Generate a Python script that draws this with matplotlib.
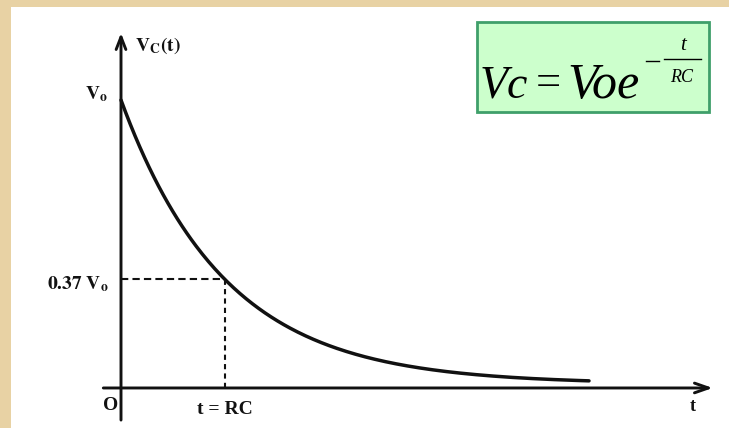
import numpy as np
import matplotlib.pyplot as plt
from matplotlib.patches import Rectangle

plt.rcParams["mathtext.fontset"] = "stix"
plt.rcParams["font.family"] = ["Liberation Serif", "DejaVu Serif"]

# time in units of RC, voltage in units of Vo
t_end = 4.5
t_rc = 1.0
v_rc = 0.37
v_top = 1.0

W, H = 729, 428
fig = plt.figure(figsize=(W / 100, H / 100), dpi=100, facecolor="#E8D2A4")

def px(x, y):
    # pixel position (from top-left) -> figure fraction
    return x / W, 1 - y / H

# white scanned sheet
fig.patches.append(Rectangle(px(11, H), (W - 11) / W, (H - 7) / H,
                             transform=fig.transFigure, facecolor="white",
                             edgecolor="none", zorder=-2))

ax = fig.add_axes([0, 0, 1, 1])
ax.set_facecolor("none")
ax.axis("off")
# 104 px per RC, 284 px per Vo, origin at (121, 384)
ax.set_xlim(-121 / 104, (W - 121) / 104)
ax.set_ylim(-(H - 384) / 284, 384 / 284)

ink = "#111111"
axis_y = -0.014

# axes with open arrow heads
ax.annotate("", xy=(0, 1.236), xytext=(0, -0.127),
            arrowprops=dict(arrowstyle="->,head_length=0.9,head_width=0.35",
                            lw=2.1, color=ink, shrinkA=0, shrinkB=0))
ax.annotate("", xy=(5.69, axis_y), xytext=(-0.17, axis_y),
            arrowprops=dict(arrowstyle="->,head_length=1.0,head_width=0.35",
                            lw=2.1, color=ink, shrinkA=0, shrinkB=0))

# discharge curve
t = np.linspace(0, t_end, 300)
v = v_top * np.exp(-t / t_rc)
ax.plot(t, v, color=ink, lw=2.5, solid_capstyle="round")

# time constant markers
ax.plot([0, t_rc], [v_rc, v_rc], color=ink, lw=1.5, dashes=(3.5, 2))
ax.plot([t_rc, t_rc], [axis_y, v_rc], color=ink, lw=1.5, dashes=(2.5, 2))

ax.text(0.13, 1.19, r"$\mathbf{V_C(t)}$", fontsize=14, color=ink,
        ha="left", va="center")
ax.text(-0.13, v_top + 0.02, r"$\mathbf{V_o}$", fontsize=14, color=ink,
        ha="right", va="center")
ax.text(-0.12, v_rc - 0.02, r"$\mathbf{0.37\ V_o}$", fontsize=14, color=ink,
        ha="right", va="center")
ax.text(-0.03, -0.075, "O", fontsize=14, fontweight="bold", color=ink,
        ha="right", va="center")
ax.text(t_rc, -0.09, "t = RC", fontsize=14, fontweight="bold", color=ink,
        ha="center", va="center")
ax.text(5.5, -0.08, "t", fontsize=13, fontweight="bold", color=ink,
        ha="center", va="center")

# formula box
fig.patches.append(Rectangle(px(477, 112), (709 - 477) / W, (112 - 22) / H,
                             transform=fig.transFigure, facecolor="#CCFFCC",
                             edgecolor="#3F9F6A", lw=2, zorder=1))
fig.text(*px(480, 86), "Vc", fontsize=33, fontstyle="italic",
         ha="left", va="center", color="black", zorder=3)
fig.text(*px(548, 84), "=", fontsize=32, ha="center", va="center",
         color="black", zorder=3)
fig.text(*px(567, 86), "Voe", fontsize=36, fontstyle="italic",
         ha="left", va="center", color="black", zorder=3)
fig.add_artist(plt.Line2D([646 / W, 659 / W], [1 - 61 / H, 1 - 61 / H],
                          transform=fig.transFigure, color="black", lw=1,
                          zorder=3))
fig.text(*px(683, 45), "t", fontsize=15, fontstyle="italic", ha="center",
         va="center", color="black", zorder=3)
fig.add_artist(plt.Line2D([664 / W, 701 / W], [1 - 59 / H, 1 - 59 / H],
                          transform=fig.transFigure, color="black", lw=1,
                          zorder=3))
fig.text(*px(682, 78), "RC", fontsize=13, fontstyle="italic", ha="center",
         va="center", color="black", zorder=3)

fig.savefig("out.png", dpi=100, facecolor=fig.get_facecolor())
